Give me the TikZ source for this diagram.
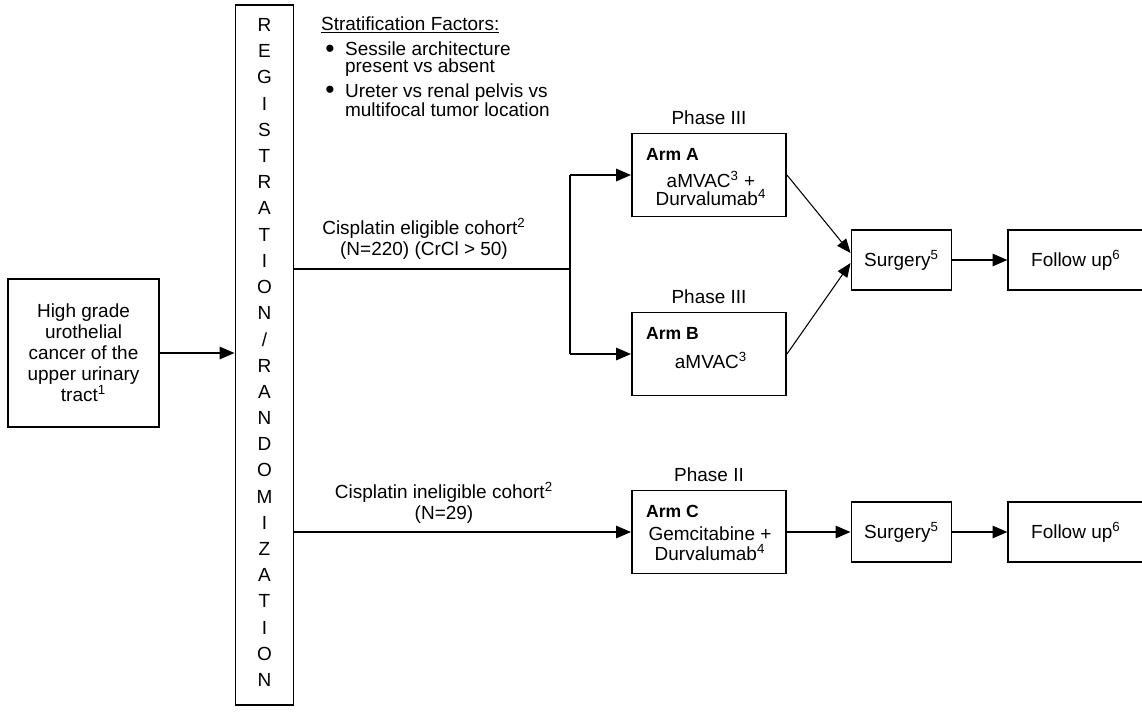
\documentclass[tikz,border=0pt]{standalone}
\usepackage{fontspec}
\setmainfont{Liberation Sans}
\usetikzlibrary{arrows.meta,positioning}

\begin{document}
\begin{tikzpicture}[
    x=0.02cm, y=-0.02cm,
    font=\fontsize{10.8}{12}\selectfont,
    box/.style={rectangle, draw=black, line width=1.1pt, inner sep=0pt},
    arm/.style={box, minimum width=3.08cm, minimum height=1.66cm},
    small/.style={box, minimum height=1.2cm},
    txt/.style={inner sep=1pt, align=center},
    tight/.style={txt, align=left, font=\fontsize{10.8}{9.3}\selectfont},
    bullet/.style={inner sep=0pt, font=\fontsize{15}{15}\selectfont},
    link/.style={draw=black, line width=0.9pt},
    arr/.style={-{Triangle[length=8.5pt, width=7pt]}, line width=1.1pt, draw=black},
    thinarr/.style={-{Triangle[length=8pt, width=6.5pt]}, line width=0.6pt, draw=black}
]
    \useasboundingbox (0,0) rectangle (1142,711);

    % entry and registration
    \node[box, minimum width=3.02cm, minimum height=2.96cm, align=center] (entry) at (83.5,353)
        {High grade\\urothelial\\cancer of the\\upper urinary\\tract\textsuperscript{1}};
    \node[box, minimum width=1.16cm, minimum height=14cm] (reg) at (264.5,355) {};
    \foreach \ch [count=\i from 0] in {R,E,G,I,S,T,R,A,T,I,O,N,/,R,A,N,D,O,M,I,Z,A,T,I,O,N}
        \node[txt] (letter\i) at (264.5,{25+26.2*\i}) {\ch};

    % stratification
    \node[txt, anchor=west] (strat) at (319,25) {\underline{Stratification Factors:}};
    \node[bullet] (dot1) at (330,51) {\textbullet};
    \node[tight, anchor=west] (fac1) at (343,59) {Sessile architecture\\present vs absent};
    \node[bullet] (dot2) at (330,92) {\textbullet};
    \node[tight, anchor=west] (fac2) at (343,100) {Ureter vs renal pelvis vs\\multifocal tumor location};

    % arms
    \node[arm] (armA) at (709,175) {};
    \node[arm] (armB) at (709,354) {};
    \node[arm] (armC) at (709,532) {};
    \node[txt, above=3pt of armA] (phaseA) {Phase III};
    \node[txt, above=3pt of armB] (phaseB) {Phase III};
    \node[txt, above=3pt of armC] (phaseC) {Phase II};

    \node[txt, anchor=west, font=\bfseries] (nameA) at (644,154) {Arm A};
    \node[txt] (drugA1) at (711,179) {aMVAC\textsuperscript{3} +};
    \node[txt] (drugA2) at (711,198) {Durvalumab\textsuperscript{4}};
    \node[txt, anchor=west, font=\bfseries] (nameB) at (644,333) {Arm B};
    \node[txt] (drugB) at (711,360) {aMVAC\textsuperscript{3}};
    \node[txt, anchor=west, font=\bfseries] (nameC) at (644,511) {Arm C};
    \node[txt] (drugC1) at (710,534) {Gemcitabine +};
    \node[txt] (drugC2) at (710,553) {Durvalumab\textsuperscript{4}};

    % surgery and follow up
    \node[small, minimum width=2cm] (surgAB) at (901.5,260) {Surgery\textsuperscript{5}};
    \node[small, minimum width=2.7cm, right=1.1cm of surgAB] (fupAB) {Follow up\textsuperscript{6}};
    \node[small, minimum width=2cm] (surgC) at (901.5,532) {Surgery\textsuperscript{5}};
    \node[small, minimum width=2.7cm, right=1.1cm of surgC] (fupC) {Follow up\textsuperscript{6}};

    % cohorts
    \coordinate (split) at (570,269);
    \node[txt] (elig) at (424,239) {Cisplatin eligible cohort\textsuperscript{2}\\(N=220) (CrCl > 50)};
    \node[txt] (inelig) at (444,503) {Cisplatin ineligible cohort\textsuperscript{2}\\(N=29)};

    \draw[arr] (entry) -- (entry -| reg.west);
    \draw[link] (reg.east |- split) -- (split);
    \draw[link] (split |- armA) -- (split |- armB);
    \draw[arr] (split |- armA) -- (armA.west);
    \draw[arr] (split |- armB) -- (armB.west);
    \draw[link, -{Triangle[length=8.5pt, width=7pt]}] (reg.east |- armC) -- (armC.west);

    \draw[thinarr] (armA.east) -- ([yshift=0.14cm]surgAB.west);
    \draw[thinarr] (armB.east) -- ([yshift=-0.06cm]surgAB.west);
    \draw[arr] (armC) -- (surgC);
    \foreach \a/\b in {surgAB/fupAB, surgC/fupC}
        \draw[arr] (\a) -- (\b);
\end{tikzpicture}
\end{document}
